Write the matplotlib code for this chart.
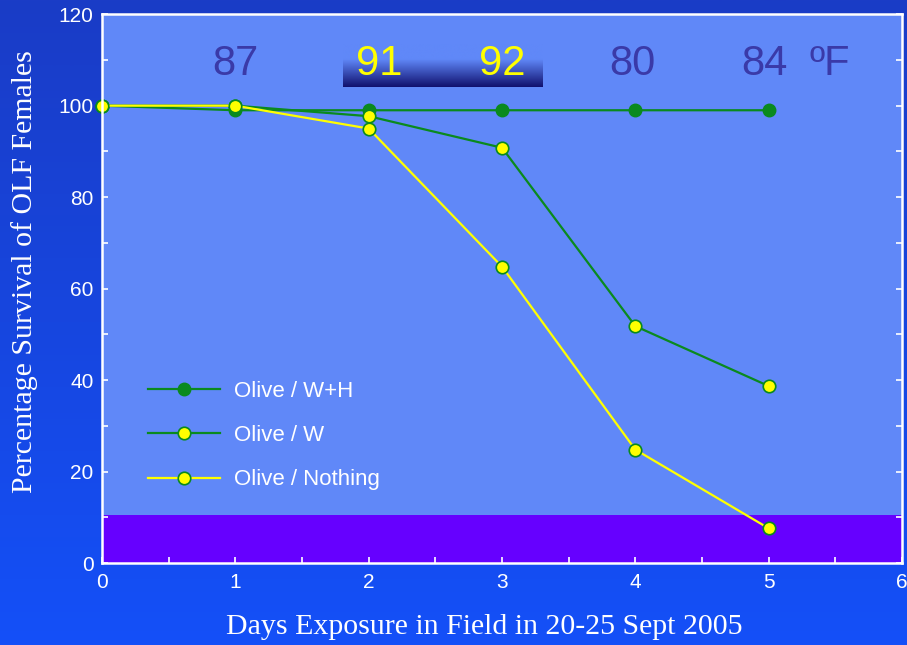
import numpy as np
import matplotlib
matplotlib.use("Agg")
import matplotlib.pyplot as plt
from matplotlib.colors import LinearSegmentedColormap
from matplotlib.ticker import MultipleLocator

# Survival data (percent) by days of field exposure
days = [0, 1, 2, 3, 4, 5]
olive_wh = [100, 99, 99, 99, 99, 99]
olive_w = [100, 100, 97.7, 90.8, 51.8, 38.7]
olive_nothing = [100, 100, 95.0, 64.8, 24.8, 7.6]

# Daily temperatures (°F) shown above the curves
temp_days = [1, 2.08, 3, 3.98, 4.97]
temps = ["87", "91", "92", "80", "84"]
temp_colors = ["#3a3aa8", "#ffff00", "#ffff00", "#3a3aa8", "#3a3aa8"]

green = "#0a8a1e"
yellow = "#ffff00"
plot_bg = "#6088f8"
band_color = "#6600ff"

fig = plt.figure(figsize=(9.07, 6.45), dpi=100)

# Figure background: vertical blue gradient
bg = fig.add_axes([0, 0, 1, 1], zorder=-10)
bg_cmap = LinearSegmentedColormap.from_list("bg", ["#1450f8", "#1a3cc6"])
bg.imshow(np.linspace(0, 1, 256).reshape(-1, 1)[::-1], aspect="auto",
          cmap=bg_cmap, extent=[0, 1, 0, 1], origin="upper")
bg.axis("off")

ax = fig.add_axes([0.1125, 0.127, 0.882, 0.851])
ax.set_facecolor(plot_bg)

# Low survival band along the bottom
ax.axhspan(0, 10.5, color=band_color, zorder=1, lw=0)

# Gradient box behind the two hottest days
box_cmap = LinearSegmentedColormap.from_list(
    "box", [(0.0, plot_bg), (0.35, plot_bg), (1.0, "#10106e")])
ax.imshow(np.linspace(0, 1, 256).reshape(-1, 1), aspect="auto", cmap=box_cmap,
          extent=[1.81, 3.31, 104.0, 113.2], origin="upper", zorder=2)
ax.set_xlim(0, 6)
ax.set_ylim(0, 120)

for x, t, c in zip(temp_days, temps, temp_colors):
    ax.text(x, 109.2, t, color=c, fontsize=30, ha="center", va="center",
            family="Liberation Sans", zorder=3)
ax.text(5.46, 109.2, "ºF", color="#3a3aa8", fontsize=30, ha="center",
        va="center", family="Liberation Sans", zorder=3)

ax.plot(days, olive_wh, color=green, lw=1.6, marker="o", ms=9,
        mfc=green, mec=green, label="Olive / W+H", zorder=5, clip_on=False)
ax.plot(days, olive_w, color=green, lw=1.6, marker="o", ms=9,
        mfc=yellow, mec=green, mew=1.2, label="Olive / W", zorder=6, clip_on=False)
ax.plot(days, olive_nothing, color=yellow, lw=1.6, marker="o", ms=9,
        mfc=yellow, mec=green, mew=1.2, label="Olive / Nothing", zorder=7,
        clip_on=False)

leg = ax.legend(loc="lower left", bbox_to_anchor=(0.033, 0.096), frameon=False,
                handlelength=3.2, labelspacing=1.05, handletextpad=0.65,
                prop={"family": "Liberation Sans", "size": 16})
for txt in leg.get_texts():
    txt.set_color("white")

for s in ax.spines.values():
    s.set_color("white")
    s.set_linewidth(1.8)
    s.set_zorder(8)

ax.xaxis.set_major_locator(MultipleLocator(1))
ax.xaxis.set_minor_locator(MultipleLocator(0.5))
ax.yaxis.set_major_locator(MultipleLocator(20))
ax.yaxis.set_minor_locator(MultipleLocator(10))
ax.tick_params(which="both", direction="in", color="white", right=True,
               labelcolor="white", labelsize=15, width=1.2, length=4)
ax.tick_params(axis="y", which="major", pad=6)
ax.tick_params(axis="x", which="major", pad=7)
for lab in ax.get_xticklabels() + ax.get_yticklabels():
    lab.set_family("Liberation Sans")

ax.set_xlabel("Days Exposure in Field in 20-25 Sept 2005", color="white",
              fontsize=21.5, family="Liberation Serif")
ax.set_ylabel("Percentage Survival of OLF Females", color="white",
              fontsize=21.5, family="Liberation Serif")
ax.xaxis.set_label_coords(0.4775, -0.093)
ax.yaxis.set_label_coords(-0.08, 0.532)

fig.savefig("out.png", dpi=100)
